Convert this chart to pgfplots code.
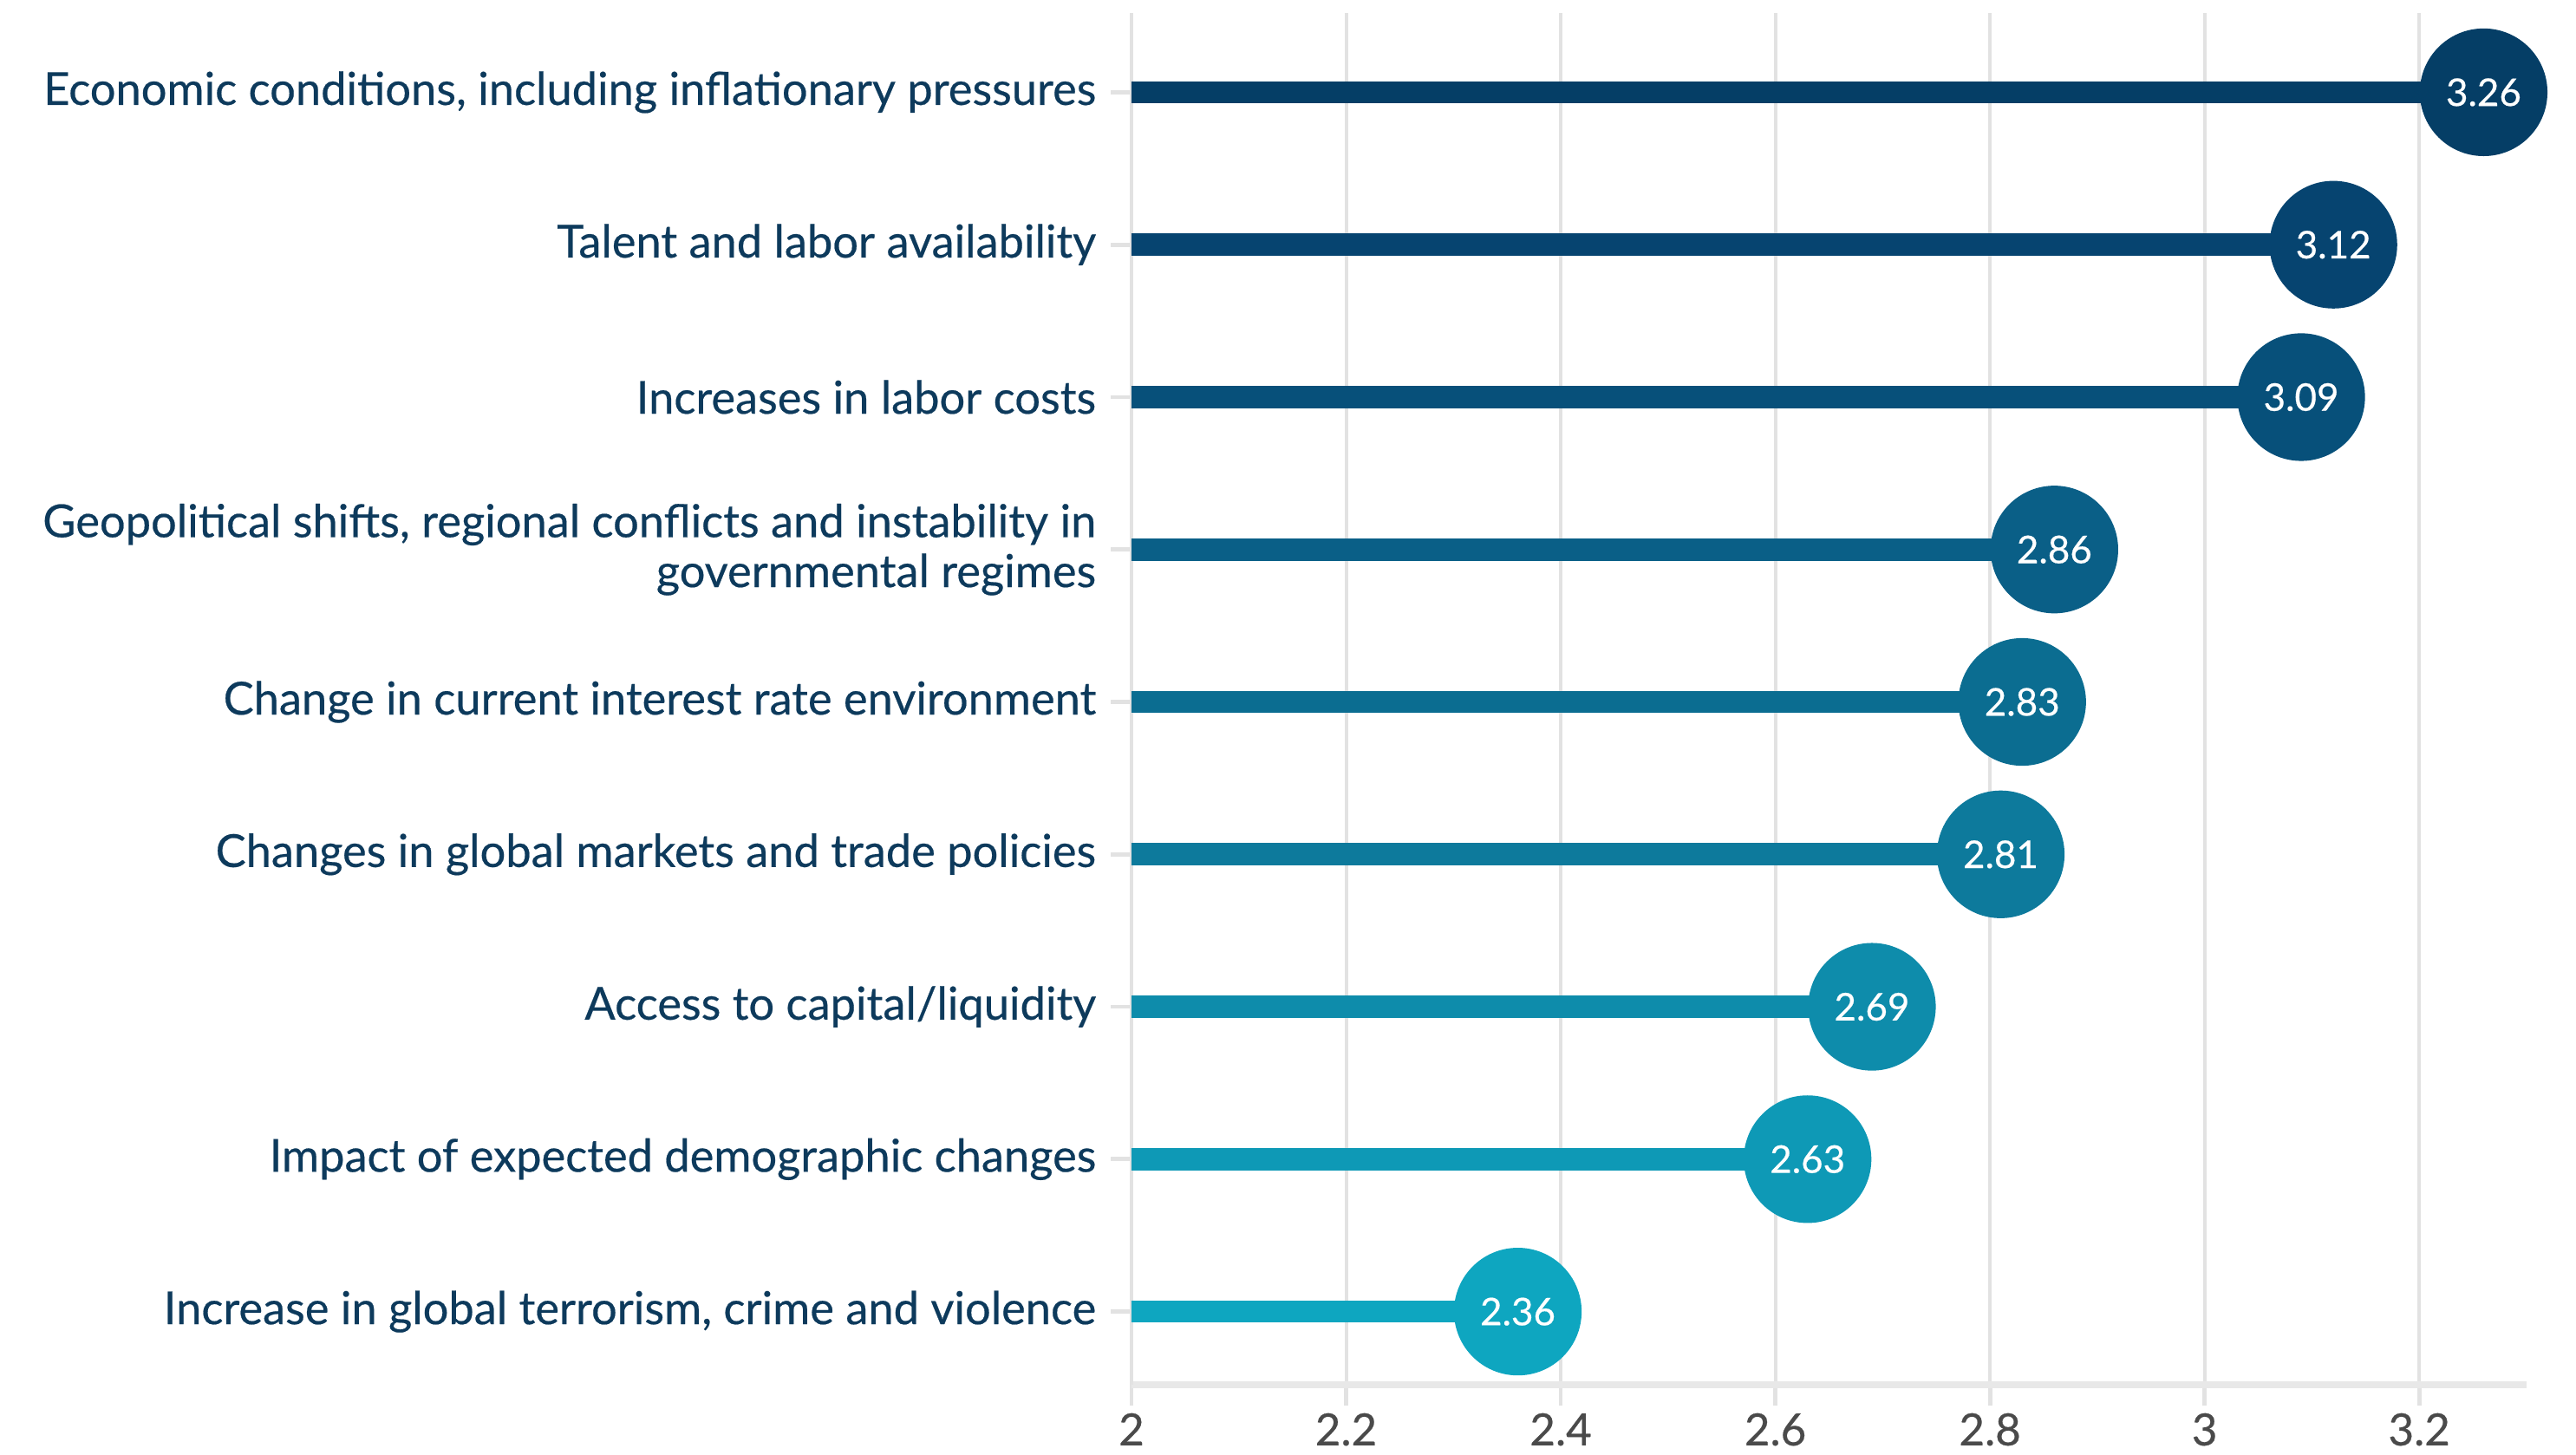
\documentclass[border=0pt]{standalone}
\usepackage{fontspec}
\setmainfont{Lato}[FakeBold=0.4]
\newfontfamily\labfont{Lato}[FakeBold=0.4]
\usepackage{pgfplots}
\pgfplotsset{compat=1.18}
\definecolor{c1}{HTML}{053E66}
\definecolor{c2}{HTML}{064470}
\definecolor{c3}{HTML}{07507A}
\definecolor{c4}{HTML}{0A5F87}
\definecolor{c5}{HTML}{0B6D91}
\definecolor{c6}{HTML}{0D7A9C}
\definecolor{c7}{HTML}{0E8CAB}
\definecolor{c8}{HTML}{0E99B6}
\definecolor{c9}{HTML}{0EA6C0}
\definecolor{labnavy}{HTML}{0D3A5C}
\definecolor{gridgray}{HTML}{E2E2E2}
\definecolor{ticktext}{HTML}{4A4A4A}
\begin{document}
\begin{tikzpicture}
\path[use as bounding box] (-326.25pt,-20.25pt) rectangle (416.5pt,399.25pt);
\begin{axis}[
  at={(0,0)}, anchor=south west,
  scale only axis,
  width=402.25pt, height=395.5pt,
  xmin=2, xmax=3.3,
  ymin=-0.52, ymax=8.48,
  y dir=reverse,
  clip=false,
  axis lines*=left,
  x axis line style={draw=gridgray!80, line width=2pt},
  y axis line style={draw=gridgray, line width=1pt},
  xtick={2,2.2,2.4,2.6,2.8,3,3.2},
  xticklabels={2,2.2,2.4,2.6,2.8,3,3.2},
  ytick={0,...,8},
  yticklabels={
    {Economic conditions, including inflationary pressures},
    {Talent and labor availability},
    {Increases in labor costs},
    {Geopolitical shifts, regional conflicts and instability in\\governmental regimes},
    {Change in current interest rate environment},
    {Changes in global markets and trade policies},
    {Access to capital/liquidity},
    {Impact of expected demographic changes},
    {Increase in global terrorism, crime and violence}
  },
  xmajorgrids,
  major grid style={draw=gridgray, line width=1pt},
  tick align=outside,
  major tick length=6pt,
  tick style={draw=gridgray, line width=1.2pt},
  xticklabel style={font=\labfont\fontsize{12.8pt}{14pt}\selectfont, text=ticktext, inner sep=0pt, yshift=-2pt},
  yticklabel style={font=\labfont\fontsize{13.1pt}{14.4pt}\selectfont, text=labnavy, align=right, inner sep=0pt, xshift=-4pt},
  /pgf/number format/assume math mode=true,
  stem/.style={line width=6.4pt, line cap=butt},
  bubble/.style={only marks, mark=*, mark size=18.2pt, point meta=x,
    nodes near coords, nodes near coords align=center,
    every node near coord/.append style={anchor=center, text=white,
      font=\labfont\fontsize{11pt}{12pt}\selectfont,
      /pgf/number format/.cd, fixed, fixed zerofill, precision=2, assume math mode=true}},
]
\addplot[stem, c1] coordinates {(2,0) (3.26,0)};
\addplot[stem, c2] coordinates {(2,1) (3.12,1)};
\addplot[stem, c3] coordinates {(2,2) (3.09,2)};
\addplot[stem, c4] coordinates {(2,3) (2.86,3)};
\addplot[stem, c5] coordinates {(2,4) (2.83,4)};
\addplot[stem, c6] coordinates {(2,5) (2.81,5)};
\addplot[stem, c7] coordinates {(2,6) (2.69,6)};
\addplot[stem, c8] coordinates {(2,7) (2.63,7)};
\addplot[stem, c9] coordinates {(2,8) (2.36,8)};
\addplot[bubble, c1, mark options={draw=c1, fill=c1}] coordinates {(3.26,0)};
\addplot[bubble, c2, mark options={draw=c2, fill=c2}] coordinates {(3.12,1)};
\addplot[bubble, c3, mark options={draw=c3, fill=c3}] coordinates {(3.09,2)};
\addplot[bubble, c4, mark options={draw=c4, fill=c4}] coordinates {(2.86,3)};
\addplot[bubble, c5, mark options={draw=c5, fill=c5}] coordinates {(2.83,4)};
\addplot[bubble, c6, mark options={draw=c6, fill=c6}] coordinates {(2.81,5)};
\addplot[bubble, c7, mark options={draw=c7, fill=c7}] coordinates {(2.69,6)};
\addplot[bubble, c8, mark options={draw=c8, fill=c8}] coordinates {(2.63,7)};
\addplot[bubble, c9, mark options={draw=c9, fill=c9}] coordinates {(2.36,8)};
\end{axis}
\end{tikzpicture}
\end{document}
